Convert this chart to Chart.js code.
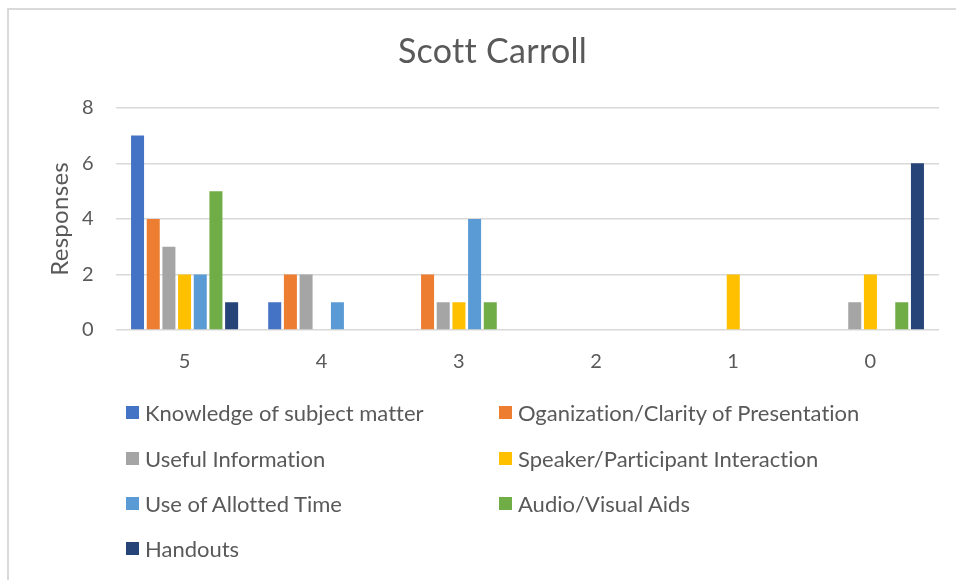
<!DOCTYPE html>
<html>
<head>
<meta charset="utf-8">
<script src="https://cdn.jsdelivr.net/npm/chart.js@4/dist/chart.umd.min.js"></script>
<style>
  html, body { margin: 0; padding: 0; background: #fff; }
  #wrap { position: relative; width: 956px; height: 580px; overflow: hidden; }
  #frame { position: absolute; left: 7px; top: 8px; width: 1000px; height: 1000px;
           border-left: 2px solid #d9d9d9; border-top: 2px solid #d9d9d9; box-sizing: border-box; }
  #chart { position: absolute; left: 0; top: 0; }
  #legend { position: absolute; left: 0; top: 0; font-family: Lato, sans-serif;
            font-size: 22px; color: #595959; font-variant-ligatures: none; }
  .item { position: absolute; display: flex; align-items: center; white-space: nowrap; height: 26px; }
  .box { width: 13px; height: 13px; margin-right: 6px; }
</style>
</head>
<body>
<div id="wrap">
  <div id="frame"></div>
  <canvas id="chart" width="956" height="580"></canvas>
  <div id="legend"></div>
</div>
<script>
const categories = ['5', '4', '3', '2', '1', '0'];
const seriesNames = [
  'Knowledge of subject matter',
  'Oganization/Clarity of Presentation',
  'Useful Information',
  'Speaker/Participant Interaction',
  'Use of Allotted Time',
  'Audio/Visual Aids',
  'Handouts'
];
const knowledge    = [7, 1, 0, 0, 0, 0];
const organization = [4, 2, 2, 0, 0, 0];
const usefulInfo   = [3, 2, 1, 0, 0, 1];
const speaker      = [2, 0, 1, 0, 2, 2];
const allottedTime = [2, 1, 4, 0, 0, 0];
const audioVisual  = [5, 0, 1, 0, 0, 1];
const handouts     = [1, 0, 0, 0, 0, 6];
const yTicks = [0, 2, 4, 6, 8];

const seriesValues = [knowledge, organization, usefulInfo, speaker, allottedTime, audioVisual, handouts];
const colors = ['#4472C4', '#ED7D31', '#A5A5A5', '#FFC000', '#5B9BD5', '#70AD47', '#264478'];
const textColor = '#595959';
const fontFamily = 'Lato, sans-serif';

const datasets = seriesNames.map((name, i) => ({
  label: name,
  data: seriesValues[i],
  backgroundColor: colors[i],
  categoryPercentage: 0.8,
  barPercentage: 0.83,
}));

// tiny letter spacing keeps Lato from joining "tt" into a ligature
const noLigatures = {
  id: 'noLigatures',
  beforeDraw(chart) { chart.ctx.letterSpacing = '0.3px'; },
};

new Chart(document.getElementById('chart'), {
  type: 'bar',
  data: { labels: categories, datasets },
  plugins: [noLigatures],
  options: {
    responsive: false,
    animation: false,
    layout: { padding: { left: 46, right: 17, top: 0, bottom: 200 } },
    plugins: {
      legend: { display: false },
      tooltip: { enabled: false },
      title: {
        display: true,
        text: 'Scott Carroll',
        color: textColor,
        font: { family: fontFamily, size: 34, weight: 'normal', lineHeight: 1.2 },
        padding: { top: 32, bottom: 35 },
      },
    },
    scales: {
      x: {
        grid: { display: false, drawTicks: false },
        border: { display: false },
        ticks: { color: textColor, padding: 20, font: { family: fontFamily, size: 20 } },
        afterFit: (s) => { s.height = 50; },
      },
      y: {
        min: 0,
        max: 8,
        afterBuildTicks: (s) => { s.ticks = yTicks.map(v => ({ value: v })); },
        grid: { color: '#d9d9d9', lineWidth: 1.5, drawTicks: false },
        border: { display: false },
        ticks: { color: textColor, padding: 22, font: { family: fontFamily, size: 20 } },
        title: {
          display: true,
          text: 'Responses',
          color: textColor,
          padding: { top: 0, bottom: 0 },
          font: { family: fontFamily, size: 24, lineHeight: 1.2 },
        },
        afterFit: (s) => { s.width = 70; },
      },
    },
  },
});

// two-column legend built from the series names and colours
const legend = document.getElementById('legend');
const colX = [126, 499];
const rowY = [413, 459, 504, 549];
seriesNames.forEach((name, i) => {
  const el = document.createElement('div');
  el.className = 'item';
  el.style.left = colX[i % 2] + 'px';
  el.style.top = (rowY[Math.floor(i / 2)] - 14) + 'px';
  const box = document.createElement('span');
  box.className = 'box';
  box.style.background = colors[i];
  el.appendChild(box);
  el.appendChild(document.createTextNode(name));
  legend.appendChild(el);
});
</script>
</body>
</html>
